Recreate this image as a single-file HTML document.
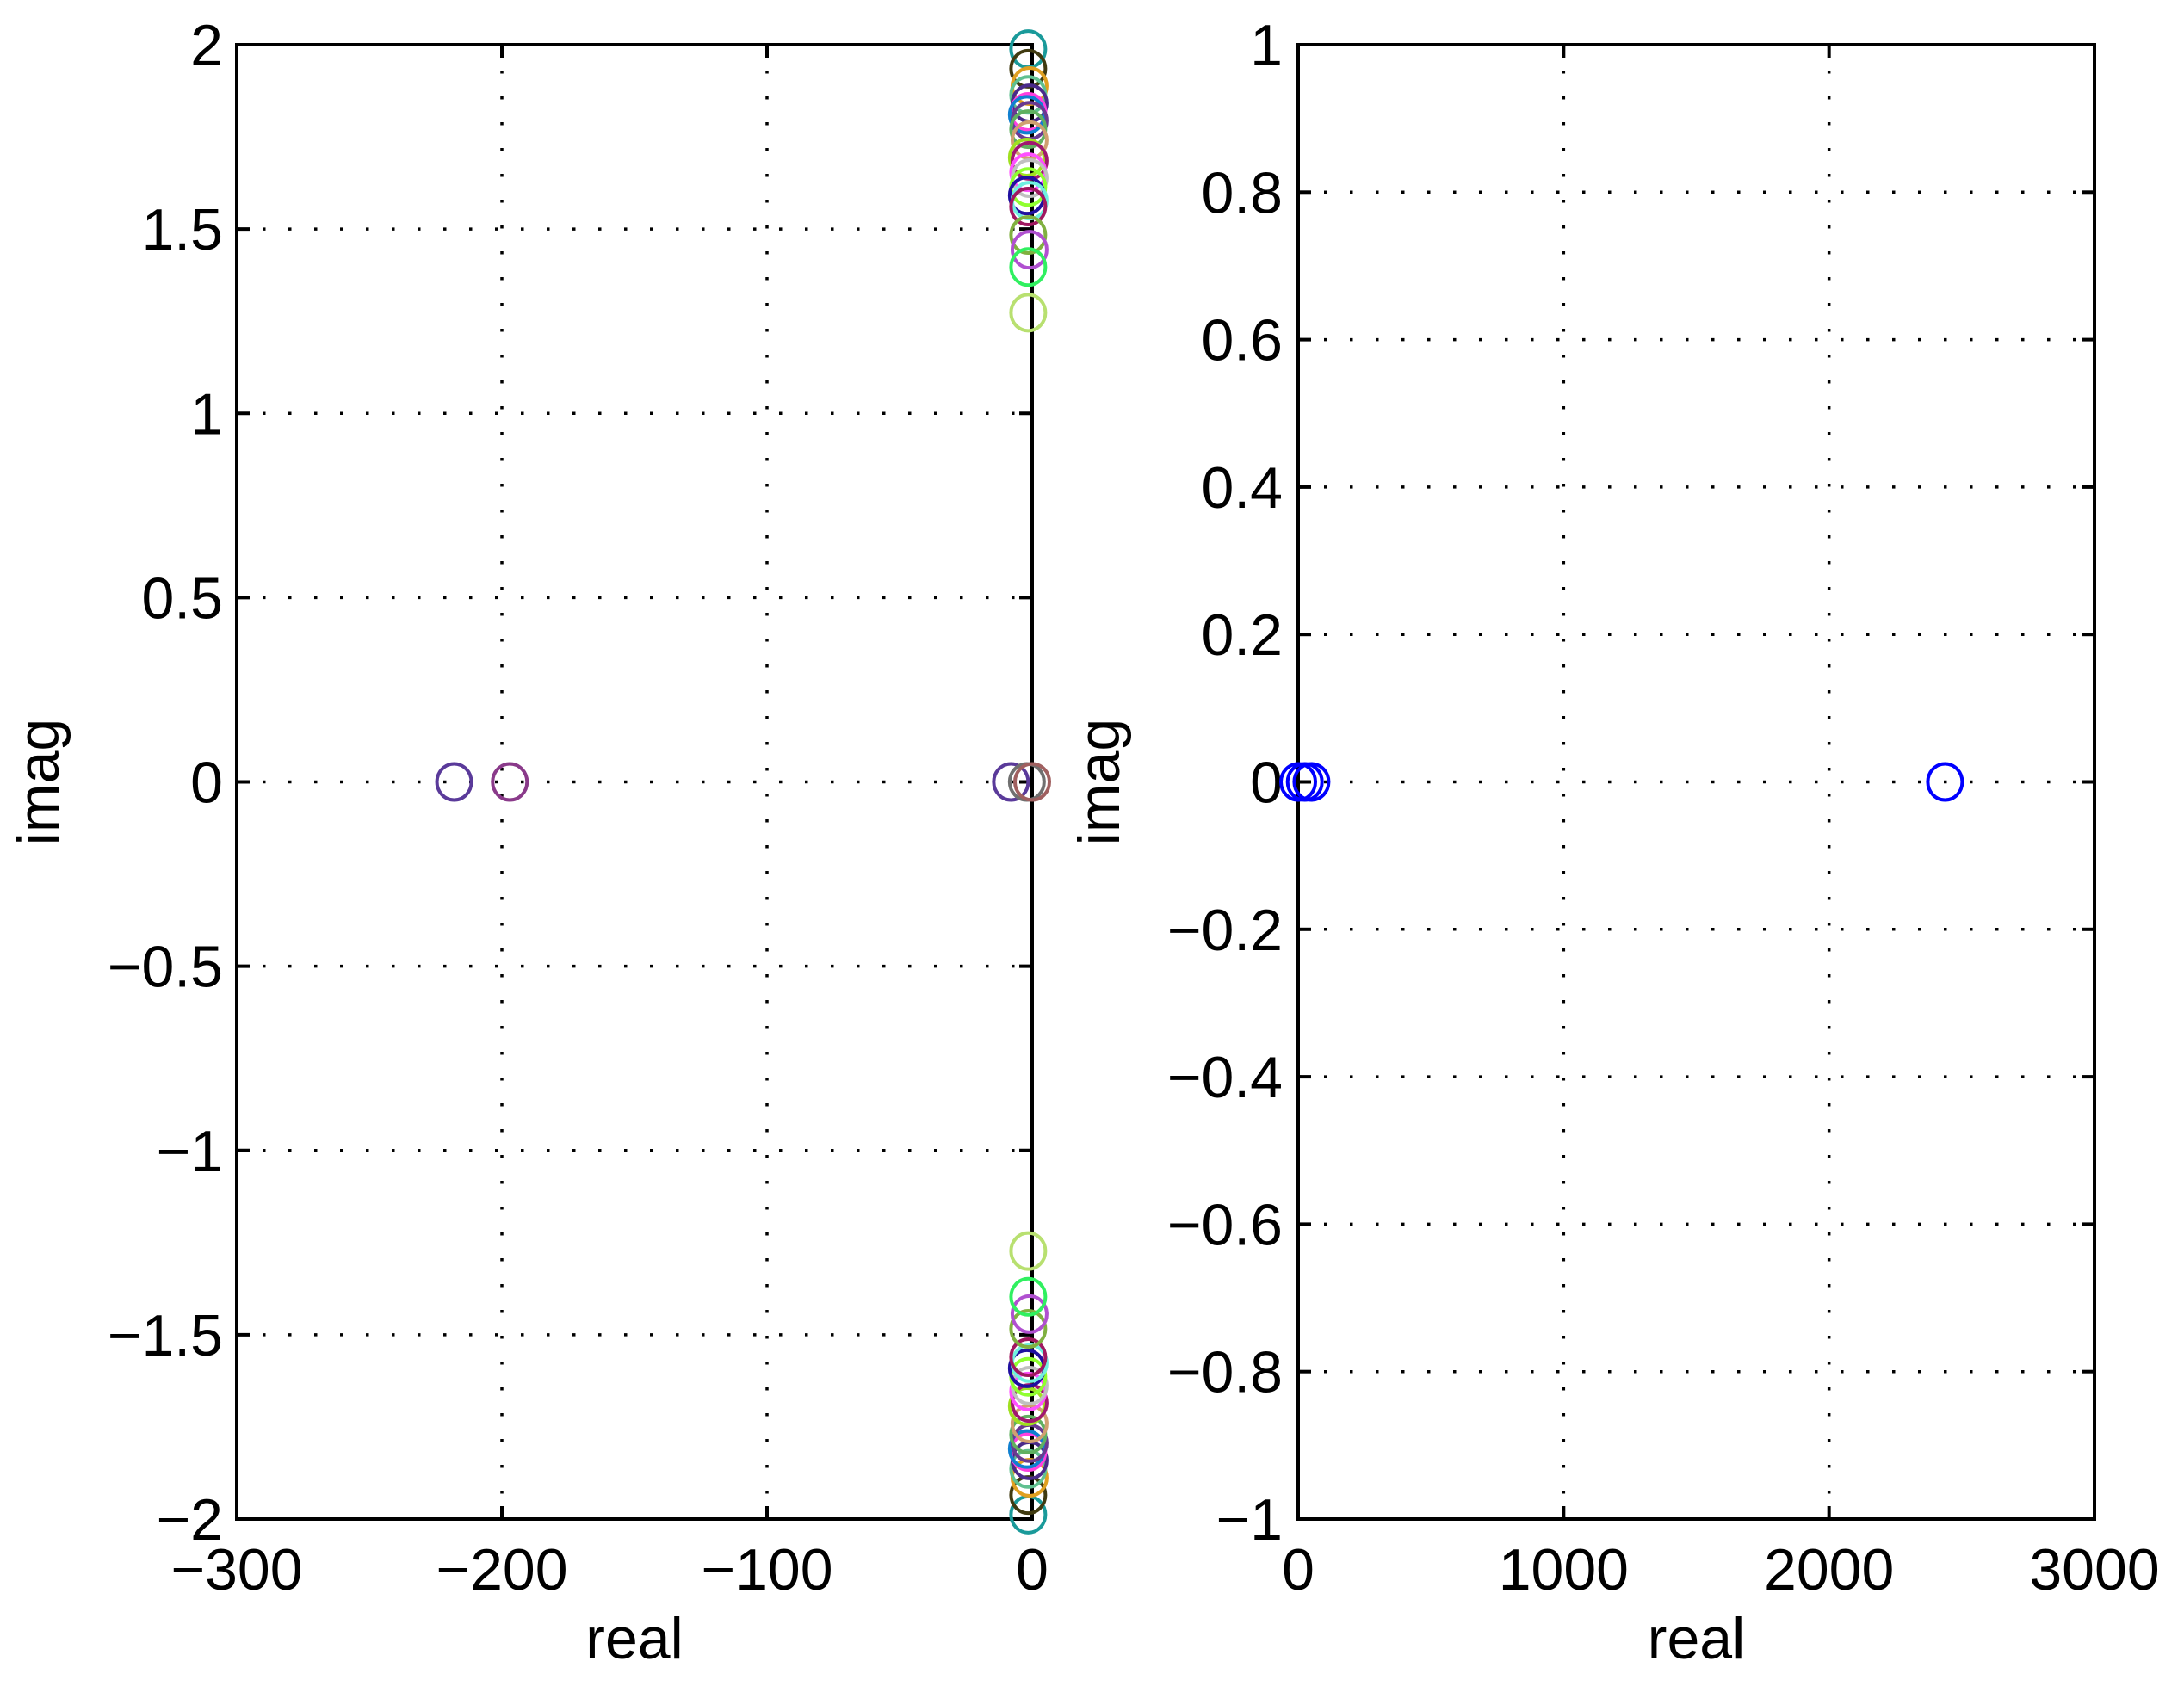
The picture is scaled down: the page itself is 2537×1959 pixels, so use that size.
<!DOCTYPE html>
<html><head><meta charset="utf-8"><style>
html,body{margin:0;padding:0;background:#fff}
svg{display:block}
text{font-family:"Liberation Sans",Arial,sans-serif;font-size:68px;fill:#000}
</style></head><body>
<svg id="chart" width="2537" height="1959" viewBox="0 0 2537 1959" xmlns="http://www.w3.org/2000/svg">
<g id="left"></g>
<g id="right"></g>
</svg>
<script>
// Left plot data
const leftXTicks = [-300, -200, -100, 0];
const leftYTicks = [-2, -1.5, -1, -0.5, 0, 0.5, 1, 1.5, 2];
const leftYTickLabels = ["\u22122", "\u22121.5", "\u22121", "\u22120.5", "0", "0.5", "1", "1.5", "2"];
const leftXTickLabels = ["\u2212300", "\u2212200", "\u2212100", "0"];
const clusterImag = [1.988,1.935,1.888,1.864,1.841,1.818,1.81,1.794,1.771,1.741,1.694,1.685,1.654,1.638,1.614,1.591,1.577,1.561,1.484,1.444,1.397,1.273];
const clusterReal = [-1.5,-1.5,-1,-1.5,-1,-1.5,-2,-1,-1.5,-1,-2,-1,-1.5,-1,-1.5,-2,-1,-1.5,-1.5,-1,-1.5,-1.5];
const clusterColors = ["#1a9a9a","#403a10","#e0a020","#60c090","#4a2a8a","#ff40e0","#1080d0","#6a3a90","#60b060","#d0a070","#a0e020","#a01870","#ff50ff","#c0c0c0","#90ff30","#2010a0","#70f0e0","#a01860","#80b040","#b050d0","#30f060","#b8e070"];
const realAxisReal = [-218, -197, -8, -2, 0];
const realAxisImag = [0, 0, 0, 0, 0];
const realAxisColors = ["#5a3a9a", "#8a3a8a", "#5a3a9a", "#707070", "#a06060"];
// Right plot data
const rightXTicks = [0, 1000, 2000, 3000];
const rightXTickLabels = ["0", "1000", "2000", "3000"];
const rightYTicks = [-1,-0.8,-0.6,-0.4,-0.2,0,0.2,0.4,0.6,0.8,1];
const rightYTickLabels = ["\u22121","\u22120.8","\u22120.6","\u22120.4","\u22120.2","0","0.2","0.4","0.6","0.8","1"];
const rightReal = [0, 25, 50, 2437];
const rightImag = [0, 0, 0, 0];

const NS = "http://www.w3.org/2000/svg";
function mk(parent, tag, attrs){const e=document.createElementNS(NS,tag);for(const k in attrs)e.setAttribute(k,attrs[k]);parent.appendChild(e);return e;}

function axes(g, box, xd, yd, xt, xl, yt, yl, labelGap, ylabX){
  const sx=v=>box.x0+(v-xd[0])/(xd[1]-xd[0])*(box.x1-box.x0);
  const sy=v=>box.y1-(v-yd[0])/(yd[1]-yd[0])*(box.y1-box.y0);
  const grid={stroke:"#000","stroke-width":3.5,"stroke-dasharray":"3.5 26.5"};
  xt.forEach((v,i)=>{
    if(i>0&&i<xt.length-1){const l=mk(g,"line",Object.assign({x1:sx(v),x2:sx(v),y1:box.y0,y2:box.y1},grid));
    
    }
    const t1=mk(g,"line",{x1:sx(v),x2:sx(v),y1:box.y1,y2:box.y1-15,stroke:"#000","stroke-width":4});
    
    
    mk(g,"line",{x1:sx(v),x2:sx(v),y1:box.y0,y2:box.y0+15,stroke:"#000","stroke-width":4});
    const t=mk(g,"text",{x:sx(v),y:box.y1+82,"text-anchor":"middle"});t.textContent=xl[i];
    
    
  });
  yt.forEach((v,i)=>{
    if(i>0&&i<yt.length-1){const l=mk(g,"line",Object.assign({x1:box.x0,x2:box.x1,y1:sy(v),y2:sy(v)},grid));
    
    }
    mk(g,"line",{x1:box.x0,x2:box.x0+15,y1:sy(v),y2:sy(v),stroke:"#000","stroke-width":4});
    mk(g,"line",{x1:box.x1,x2:box.x1-15,y1:sy(v),y2:sy(v),stroke:"#000","stroke-width":4});
    const t=mk(g,"text",{x:box.x0-labelGap,y:sy(v)+24,"text-anchor":"end"});t.textContent=yl[i];
    
    
  });
  const r=mk(g,"rect",{x:box.x0,y:box.y0,width:box.x1-box.x0,height:box.y1-box.y0,fill:"none",stroke:"#000","stroke-width":4});
  
  
  const xl2=mk(g,"text",{x:(box.x0+box.x1)/2,y:box.y1+162,"text-anchor":"middle"});xl2.textContent="real";
  
  
  const yl2=mk(g,"text",{x:ylabX,y:(box.y0+box.y1)/2,"text-anchor":"middle",transform:`rotate(-90 ${ylabX} ${(box.y0+box.y1)/2})`});yl2.textContent="imag";
  
  
  return {sx,sy};
}
function circle(g,x,y,c,name){const e=mk(g,"ellipse",{cx:x,cy:y,rx:20,ry:21,fill:"none",stroke:c,"stroke-width":4});
  
  }

const L=document.getElementById("left");
const lb={x0:275,x1:1199,y0:52,y1:1765};
const la=axes(L,lb,[-300,0],[-2,2],leftXTicks,leftXTickLabels,leftYTicks,leftYTickLabels,16,68);
realAxisReal.forEach((v,i)=>circle(L,la.sx(v),la.sy(realAxisImag[i]),realAxisColors[i],'real-pole'));
clusterImag.forEach((v,i)=>{
  circle(L,la.sx(clusterReal[i]),la.sy(v),clusterColors[i],'pole-upper');
  circle(L,la.sx(clusterReal[i]),la.sy(-v),clusterColors[i],'pole-lower');
});

const R=document.getElementById("right");
const rb={x0:1508,x1:2433,y0:52,y1:1765};
const ra=axes(R,rb,[0,3000],[-1,1],rightXTicks,rightXTickLabels,rightYTicks,rightYTickLabels,18,1300);
rightReal.forEach((v,i)=>circle(R,ra.sx(v),ra.sy(rightImag[i]),"#0000ff",'right-pole'));
</script>
</body></html>
